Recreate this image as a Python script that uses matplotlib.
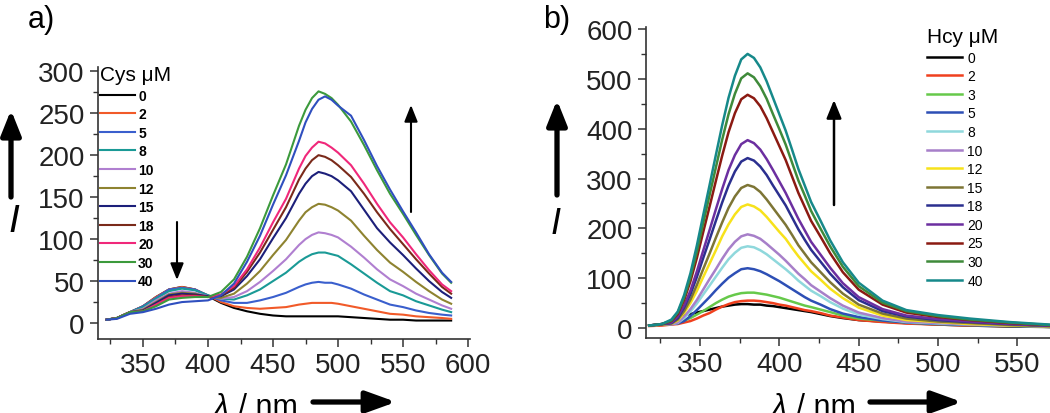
import matplotlib
matplotlib.use("Agg")
import matplotlib.pyplot as plt
from matplotlib.patches import FancyArrowPatch
from matplotlib.ticker import MultipleLocator

plt.rcParams['font.family'] = ['Liberation Sans', 'DejaVu Sans']

# ---------------- data: panel a (Cys) ----------------
wl_a = [322, 330, 340, 350, 360, 370, 380, 390, 400, 410, 420, 430, 440, 450,
        460, 470, 475, 480, 485, 490, 495, 500,
        510, 520, 530, 540, 550, 560, 570, 580, 587]
cys_labels = ['0', '2', '5', '8', '10', '12', '15', '18', '20', '30', '40']
cys_0 = [4, 6, 13, 20, 31, 40, 43, 40, 32, 24, 18, 14, 11, 9, 8, 8, 8, 8, 8, 8, 8, 8, 7, 6, 5, 4, 4, 3, 3, 3, 3]
cys_2 = [4, 6, 13, 20, 31, 40, 43, 40, 33, 25, 20, 18, 17, 18, 19, 22, 23, 24, 24, 24, 24, 23, 20, 17, 14, 11, 10, 8, 7, 6, 5]
cys_5 = [4, 6, 13, 20, 30, 40, 42, 40, 33, 27, 24, 24, 27, 31, 36, 43, 46, 48, 49, 48, 48, 46, 41, 34, 28, 22, 19, 15, 12, 10, 9]
cys_8 = [4, 6, 13, 19, 29, 38, 41, 39, 33, 29, 28, 33, 40, 50, 60, 73, 78, 82, 84, 84, 82, 80, 70, 59, 48, 38, 33, 26, 21, 16, 13]
cys_10 = [4, 6, 13, 17, 27, 35, 38, 36, 32, 29, 31, 38, 49, 62, 76, 93, 100, 105, 108, 107, 105, 102, 91, 78, 64, 52, 44, 35, 28, 21, 17]
cys_12 = [4, 6, 13, 16, 25, 34, 36, 35, 31, 30, 35, 47, 62, 81, 99, 122, 132, 138, 142, 141, 138, 134, 122, 104, 87, 72, 61, 49, 38, 28, 23]
cys_15 = [4, 6, 13, 15, 24, 33, 35, 34, 32, 32, 40, 56, 76, 101, 125, 154, 166, 175, 180, 178, 175, 170, 157, 135, 113, 96, 81, 65, 50, 37, 30]
cys_18 = [4, 6, 13, 14, 22, 31, 33, 33, 31, 33, 42, 61, 84, 111, 138, 171, 184, 194, 200, 198, 194, 188, 174, 154, 132, 112, 94, 76, 59, 43, 35]
cys_20 = [4, 6, 13, 14, 22, 30, 32, 32, 31, 34, 44, 64, 90, 120, 148, 184, 199, 209, 216, 214, 209, 203, 188, 166, 142, 120, 102, 82, 63, 46, 38]
cys_30 = [4, 6, 13, 14, 20, 28, 30, 31, 31, 37, 52, 79, 113, 152, 189, 235, 254, 268, 276, 273, 268, 260, 240, 212, 182, 154, 130, 105, 81, 59, 48]
cys_40 = [4, 5, 11, 13, 17, 22, 25, 26, 27, 33, 47, 73, 104, 141, 176, 217, 239, 255, 266, 270, 266, 259, 247, 218, 187, 159, 133, 108, 82, 60, 49]
cys_series = [cys_0, cys_2, cys_5, cys_8, cys_10, cys_12, cys_15, cys_18, cys_20, cys_30, cys_40]
cys_colors = ['#000000', '#f15a29', '#3a5fcd', '#1a9a96', '#b07fd0', '#8e8330',
              '#1c1f7a', '#7a2a1a', '#f0287a', '#3c9a3c', '#2f4fbf']

# ---------------- data: panel b (Hcy) ----------------
wl_b = [318, 326, 332, 336, 340, 344, 348, 352, 356, 360, 364, 368, 372, 376, 380,
        384, 388, 392, 396, 400, 404, 408, 412, 416, 420, 426, 432, 440, 450,
        465, 480, 500, 520, 545, 575]
wl_b_0 = [336, 340, 344, 348, 352, 356, 360, 364, 368, 372, 376, 380, 384, 388,
          392, 396, 400, 404, 408, 412, 416, 420, 426, 432, 440, 450, 465, 480,
          500, 520, 545, 575]
hcy_labels = ['0', '2', '3', '5', '8', '10', '12', '15', '18', '20', '25', '30', '40']
hcy_0 = [24, 26, 28, 31, 34, 37, 40, 43, 45, 47, 48, 48, 47, 47, 45, 44, 42, 40, 38, 36, 34, 32, 28, 24, 20, 16, 13, 10, 7, 5, 3, 2]
hcy_2 = [4, 5, 7, 8, 11, 14, 19, 25, 30, 37, 43, 48, 52, 54, 55, 55, 54, 52, 50, 47, 45, 42, 39, 36, 34, 30, 25, 21, 16, 12, 9, 7, 5, 4, 2]
hcy_3 = [5, 7, 9, 11, 15, 20, 27, 34, 42, 50, 57, 63, 67, 70, 71, 71, 69, 67, 64, 61, 57, 53, 49, 45, 42, 37, 32, 25, 19, 15, 11, 8, 6, 4, 2]
hcy_5 = [5, 7, 8, 9, 14, 24, 36, 49, 62, 76, 89, 101, 110, 118, 120, 118, 114, 108, 101, 94, 86, 78, 70, 62, 55, 47, 38, 29, 22, 15, 11, 8, 6, 4, 2]
hcy_8 = [5, 7, 8, 10, 20, 33, 49, 67, 85, 103, 121, 138, 151, 161, 164, 162, 156, 148, 138, 128, 118, 107, 95, 85, 75, 64, 52, 39, 27, 18, 12, 9, 7, 5, 3]
hcy_10 = [5, 7, 8, 11, 23, 38, 56, 77, 98, 118, 139, 158, 173, 184, 188, 185, 179, 169, 158, 147, 135, 122, 109, 98, 86, 73, 60, 45, 31, 20, 13, 10, 7, 5, 3]
hcy_12 = [5, 7, 9, 15, 30, 50, 74, 102, 129, 156, 184, 208, 228, 243, 248, 244, 236, 223, 208, 193, 179, 161, 144, 129, 114, 97, 79, 60, 41, 25, 16, 12, 8, 5, 3]
hcy_15 = [5, 7, 9, 17, 34, 57, 86, 118, 149, 181, 212, 241, 264, 281, 287, 283, 273, 258, 241, 224, 207, 187, 166, 149, 132, 112, 92, 69, 47, 29, 19, 13, 10, 6, 3]
hcy_18 = [5, 8, 10, 20, 41, 68, 102, 140, 177, 215, 252, 286, 314, 334, 341, 336, 324, 307, 286, 266, 246, 222, 198, 177, 157, 133, 109, 82, 56, 34, 23, 16, 12, 8, 4]
hcy_20 = [5, 8, 11, 23, 45, 75, 113, 155, 196, 238, 279, 317, 347, 369, 377, 371, 358, 339, 317, 294, 271, 245, 219, 196, 173, 147, 121, 90, 62, 38, 25, 18, 13, 8, 4]
hcy_25 = [5, 8, 14, 28, 56, 94, 140, 192, 243, 295, 346, 393, 431, 459, 468, 461, 445, 421, 393, 365, 337, 304, 271, 243, 215, 183, 150, 112, 77, 47, 31, 22, 16, 10, 5]
hcy_30 = [5, 8, 15, 31, 61, 102, 153, 210, 266, 322, 378, 429, 470, 501, 511, 503, 485, 460, 429, 399, 368, 332, 296, 266, 235, 199, 164, 123, 84, 51, 34, 24, 17, 11, 5]
hcy_40 = [5, 8, 17, 33, 66, 110, 165, 226, 286, 347, 407, 462, 506, 539, 550, 542, 523, 495, 462, 429, 396, 358, 319, 286, 253, 215, 176, 132, 91, 55, 36, 26, 19, 12, 6]
hcy_series = [hcy_0, hcy_2, hcy_3, hcy_5, hcy_8, hcy_10, hcy_12, hcy_15, hcy_18,
              hcy_20, hcy_25, hcy_30, hcy_40]
hcy_colors = ['#000000', '#f0401e', '#66c94a', '#2d4fb5', '#8fd8dc', '#a77fc9',
              '#f7e21b', '#7d7535', '#2b2f8f', '#6c2fa0', '#8b1a12', '#3f8a3a', '#16898a']

# ---------------- figure ----------------
W, H = 1050, 414
fig = plt.figure(figsize=(W / 100, H / 100), dpi=100)


def fx(x):
    return x / W


def fy(y):
    return 1 - y / H


axis_col = '#333333'


def style_axes(ax):
    for s in ['top', 'right']:
        ax.spines[s].set_visible(False)
    for s in ['left', 'bottom']:
        ax.spines[s].set_color(axis_col)
        ax.spines[s].set_linewidth(1.2)
    ax.tick_params(which='major', direction='out', length=6, width=1.1,
                   color=axis_col, labelsize=20, pad=3.5, labelcolor='#222222')
    ax.tick_params(which='minor', direction='out', length=3.5, width=1.0, color=axis_col)


# panel a
ax_a = fig.add_axes([fx(98), fy(340), fx(470) - fx(98), fy(68) - fy(340)])
lines_a = []
for vals, col, lab in zip(cys_series, cys_colors, cys_labels):
    ln, = ax_a.plot(wl_a, vals, color=col, lw=1.5, label=lab)
    lines_a.append(ln)
ax_a.set_xlim(315.4, 601.5)
ax_a.set_ylim(-19, 305)
ax_a.set_xticks([350, 400, 450, 500, 550, 600])
ax_a.set_yticks([0, 50, 100, 150, 200, 250, 300])
ax_a.xaxis.set_minor_locator(MultipleLocator(25))
ax_a.yaxis.set_minor_locator(MultipleLocator(25))
style_axes(ax_a)
ax_a.legend(handles=lines_a, title='Cys μM', loc='upper left',
            bbox_to_anchor=(fx(100), fy(66)), bbox_transform=fig.transFigure,
            frameon=False, prop={'size': 10, 'weight': 'bold'}, title_fontsize=15,
            handlelength=2.5, handletextpad=0.25, labelspacing=0.33,
            borderpad=0, borderaxespad=0, alignment='left')

# panel b
ax_b = fig.add_axes([fx(646), fy(339), 1 - fx(646), fy(28) - fy(339)])
lines_b = []
for i, (vals, col, lab) in enumerate(zip(hcy_series, hcy_colors, hcy_labels)):
    xs = wl_b_0 if i == 0 else wl_b
    ln, = ax_b.plot(xs, vals, color=col, lw=1.8, label=lab)
    lines_b.append(ln)
ax_b.set_xlim(316, 570.5)
ax_b.set_ylim(-20, 604)
ax_b.set_xticks([350, 400, 450, 500, 550])
ax_b.set_yticks([0, 100, 200, 300, 400, 500, 600])
ax_b.xaxis.set_minor_locator(MultipleLocator(25))
ax_b.yaxis.set_minor_locator(MultipleLocator(50))
style_axes(ax_b)
ax_b.legend(handles=lines_b, title='Hcy μM', loc='upper left',
            bbox_to_anchor=(fx(927), fy(28)), bbox_transform=fig.transFigure,
            frameon=False, prop={'size': 10}, title_fontsize=15,
            handlelength=2.5, handletextpad=0.4, labelspacing=0.33,
            borderpad=0, borderaxespad=0, alignment='left')

# ---------------- annotations ----------------
def arrow(x0, y0, x1, y1, lw, hl, hw):
    a = FancyArrowPatch((fx(x0), fy(y0)), (fx(x1), fy(y1)), transform=fig.transFigure,
                        arrowstyle='-|>,head_length=%g,head_width=%g' % (hl, hw),
                        mutation_scale=1, lw=lw, color='black', shrinkA=0, shrinkB=0)
    fig.add_artist(a)


# big I arrows
arrow(11, 198, 11, 111, 3.8, 15, 6)
arrow(557, 196, 557, 101, 3.8, 15, 6)
fig.text(fx(14), fy(222), 'I', fontsize=28, style='italic', ha='center', va='center')
fig.text(fx(556), fy(225), 'I', fontsize=26, style='italic', ha='center', va='center')

# trend arrows
arrow(177, 223, 177, 281, 1.5, 10, 4)
arrow(411, 213, 411, 106, 1.5, 10, 4)
arrow(834, 206, 834, 101, 1.8, 11, 4.5)

# x labels
for xl, xa0, xa1 in [(213, 313, 396), (771, 870, 962)]:
    fig.text(fx(xl), fy(416), 'λ', fontsize=22, style='italic', ha='left', va='baseline')
    fig.text(fx(xl + 17), fy(416), ' / nm', fontsize=22, ha='left', va='baseline')
    arrow(xa0, 403, xa1, 403, 3.8, 18, 6.5)

# panel letters
fig.text(fx(28), fy(5), 'a)', fontsize=22, ha='left', va='top')
fig.text(fx(543), fy(5), 'b)', fontsize=22, ha='left', va='top')

fig.savefig('out.png', dpi=100)
